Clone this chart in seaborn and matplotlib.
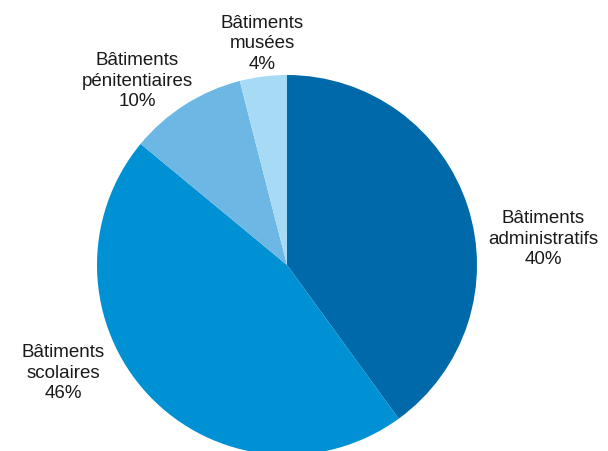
import matplotlib
matplotlib.use("Agg")
import matplotlib.pyplot as plt
import seaborn as sns

# Share of buildings by category
categories = ["administratifs", "scolaires", "pénitentiaires", "musées"]
shares = [40, 46, 10, 4]
colors = ["#0069AA", "#0091D4", "#6CB7E4", "#A7DAF5"]

# Label anchor points (pixel centre of each label block)
label_px = [(543, 239), (63, 373), (137, 81), (262, 44)]

sns.set_theme(style="white")
plt.rcParams["font.family"] = ["Liberation Sans", "DejaVu Sans"]

W, H, DPI = 608, 451, 100
cx, cy, R = 287, 265, 190

fig = plt.figure(figsize=(W / DPI, H / DPI), dpi=DPI)
ax = fig.add_axes([0, 0, 1, 1])
ax.pie(shares, colors=colors, startangle=90, counterclock=False,
       radius=1.0, center=(0, 0), wedgeprops=dict(linewidth=0))
ax.set_xlim(-cx / R, (W - cx) / R)
ax.set_ylim(-(H - cy) / R, cy / R)
ax.set_aspect("equal")
ax.axis("off")

for cat, val, (px, py) in zip(categories, shares, label_px):
    ax.text((px - cx) / R, (cy - py) / R, f"Bâtiments\n{cat}\n{val}%",
            ha="center", va="center", fontsize=13.5, color="#1a1a1a",
            linespacing=1.25)

fig.savefig("out.png", dpi=DPI, facecolor="white")
